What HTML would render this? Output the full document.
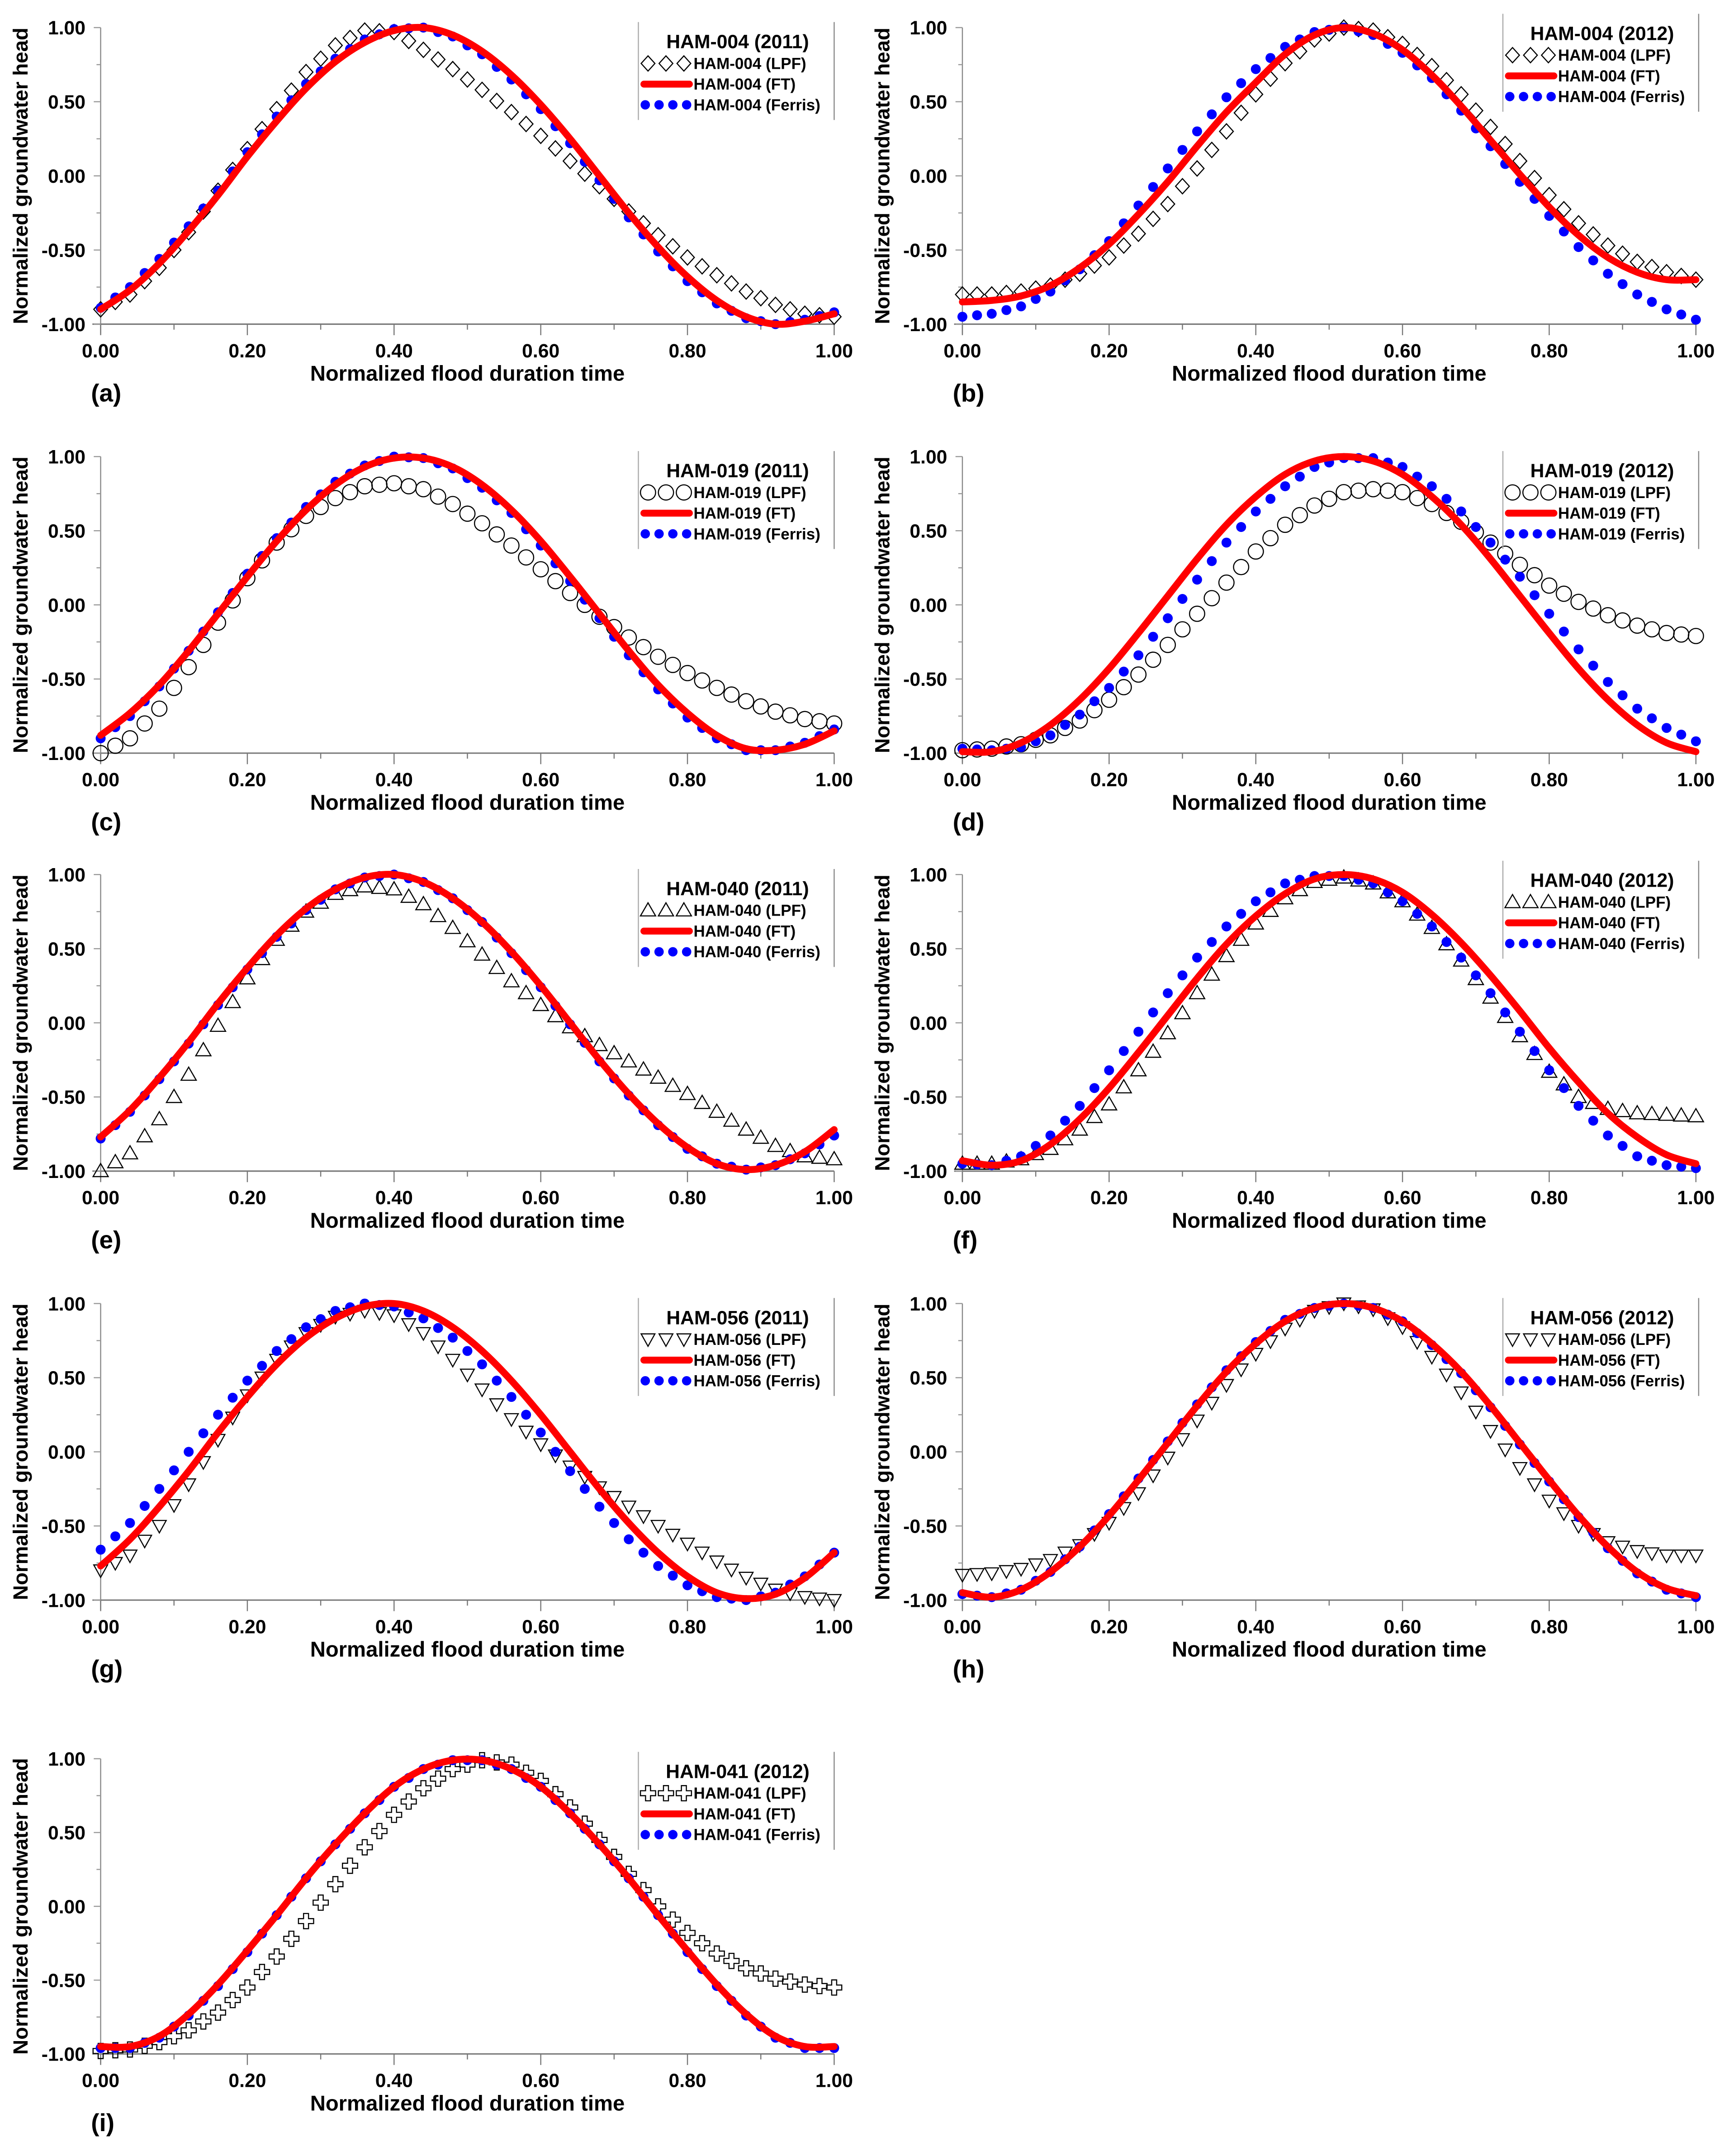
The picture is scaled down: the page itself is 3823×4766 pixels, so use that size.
<!DOCTYPE html>
<html><head><meta charset="utf-8"><style>
html,body{margin:0;padding:0;background:#fff;}
svg{display:block;}
text{font-family:"Liberation Sans Narrow","Liberation Sans",sans-serif;font-weight:bold;fill:#000;}
.yt{font-family:"Liberation Sans",sans-serif;}
</style></head><body>
<svg id="fig" xmlns="http://www.w3.org/2000/svg" width="3823" height="4766" viewBox="0 0 1254 1563" preserveAspectRatio="none"></svg>
<script>
const xs = [0,0.04,0.08,0.12,0.16,0.20,0.24,0.28,0.32,0.36,0.40,0.44,0.48,0.52,0.56,0.60,0.64,0.68,0.72,0.76,0.80,0.84,0.88,0.92,0.96,1.00];
const yTicks = [1,0.5,0,-0.5,-1];
const yTickLabels = ["1.00","0.50","0.00","-0.50","-1.00"];
const xTicks = [0,0.2,0.4,0.6,0.8,1];
const xTickLabels = ["0.00","0.20","0.40","0.60","0.80","1.00"];

const aFT = [-0.90,-0.77,-0.59,-0.37,-0.13,0.13,0.37,0.59,0.77,0.90,0.98,1.00,0.95,0.84,0.68,0.48,0.25,0.00,-0.25,-0.48,-0.68,-0.84,-0.95,-1.00,-0.98,-0.93];
const aFerris = [-0.89,-0.75,-0.56,-0.34,-0.10,0.16,0.40,0.62,0.79,0.92,0.99,1.00,0.94,0.82,0.65,0.45,0.22,-0.03,-0.28,-0.51,-0.71,-0.86,-0.96,-1.00,-0.97,-0.92];
const aLPF = [-0.90,-0.80,-0.62,-0.38,-0.10,0.18,0.45,0.70,0.88,0.98,0.97,0.85,0.72,0.58,0.43,0.27,0.10,-0.07,-0.24,-0.40,-0.55,-0.67,-0.78,-0.87,-0.93,-0.95];

const bFT = [-0.85,-0.84,-0.81,-0.74,-0.62,-0.46,-0.26,-0.04,0.20,0.43,0.63,0.82,0.95,1.00,0.96,0.85,0.68,0.47,0.24,0.01,-0.21,-0.40,-0.55,-0.65,-0.70,-0.70];
const bFerris = [-0.95,-0.93,-0.88,-0.78,-0.63,-0.44,-0.20,0.05,0.30,0.53,0.72,0.87,0.97,1.00,0.95,0.83,0.66,0.44,0.20,-0.04,-0.27,-0.48,-0.66,-0.80,-0.90,-0.97];
const bLPF = [-0.80,-0.80,-0.78,-0.74,-0.66,-0.55,-0.39,-0.19,0.05,0.30,0.55,0.76,0.92,1.00,0.98,0.89,0.74,0.55,0.33,0.10,-0.13,-0.32,-0.47,-0.58,-0.65,-0.70];

const cFT = [-0.88,-0.73,-0.54,-0.31,-0.06,0.19,0.43,0.64,0.81,0.93,0.99,0.99,0.93,0.81,0.64,0.43,0.19,-0.06,-0.31,-0.54,-0.73,-0.88,-0.97,-0.98,-0.94,-0.85];
const cFerris = [-0.90,-0.75,-0.55,-0.31,-0.05,0.21,0.45,0.66,0.83,0.94,1.00,0.99,0.92,0.79,0.62,0.40,0.16,-0.09,-0.34,-0.57,-0.76,-0.90,-0.98,-0.98,-0.93,-0.84];
const cLPF = [-1.00,-0.90,-0.70,-0.42,-0.12,0.18,0.42,0.60,0.72,0.80,0.82,0.78,0.68,0.55,0.40,0.24,0.08,-0.08,-0.22,-0.35,-0.46,-0.56,-0.65,-0.72,-0.77,-0.80];

const dFT = [-0.99,-0.99,-0.93,-0.81,-0.64,-0.43,-0.19,0.06,0.31,0.54,0.73,0.88,0.97,1.00,0.97,0.88,0.73,0.54,0.31,0.06,-0.19,-0.43,-0.64,-0.81,-0.93,-0.99];
const dFerris = [-0.97,-0.98,-0.96,-0.88,-0.74,-0.56,-0.34,-0.09,0.17,0.42,0.63,0.80,0.93,0.99,0.99,0.93,0.80,0.63,0.42,0.19,-0.06,-0.30,-0.52,-0.70,-0.83,-0.92];
const dLPF = [-0.98,-0.97,-0.94,-0.88,-0.78,-0.64,-0.47,-0.27,-0.06,0.15,0.36,0.54,0.67,0.76,0.78,0.76,0.68,0.56,0.42,0.27,0.13,0.02,-0.07,-0.14,-0.19,-0.21];

const eFT = [-0.77,-0.59,-0.37,-0.13,0.13,0.37,0.59,0.77,0.90,0.98,1.00,0.95,0.84,0.68,0.48,0.25,0.00,-0.25,-0.48,-0.68,-0.84,-0.95,-0.99,-0.96,-0.87,-0.72];
const eFerris = [-0.78,-0.60,-0.38,-0.14,0.12,0.36,0.58,0.76,0.90,0.98,1.00,0.95,0.84,0.68,0.47,0.24,-0.01,-0.26,-0.49,-0.69,-0.85,-0.95,-0.99,-0.96,-0.88,-0.76];
const eLPF = [-1.00,-0.88,-0.65,-0.35,-0.02,0.30,0.56,0.75,0.87,0.92,0.90,0.80,0.64,0.46,0.28,0.12,-0.03,-0.15,-0.26,-0.37,-0.48,-0.60,-0.72,-0.83,-0.90,-0.92];

const fFT = [-0.93,-0.96,-0.93,-0.82,-0.65,-0.44,-0.20,0.05,0.30,0.53,0.72,0.87,0.97,1.00,0.97,0.88,0.73,0.54,0.32,0.08,-0.17,-0.40,-0.61,-0.77,-0.89,-0.95];
const fFerris = [-0.95,-0.96,-0.90,-0.76,-0.56,-0.32,-0.06,0.20,0.44,0.65,0.82,0.94,0.99,0.99,0.94,0.82,0.65,0.44,0.20,-0.06,-0.32,-0.56,-0.76,-0.90,-0.96,-0.98];
const fLPF = [-0.95,-0.95,-0.92,-0.85,-0.72,-0.55,-0.32,-0.07,0.20,0.45,0.67,0.84,0.95,0.98,0.94,0.82,0.64,0.42,0.17,-0.09,-0.33,-0.50,-0.58,-0.61,-0.62,-0.63];

const gFT = [-0.77,-0.59,-0.37,-0.13,0.13,0.37,0.59,0.77,0.90,0.98,1.00,0.95,0.84,0.68,0.48,0.25,0.00,-0.25,-0.48,-0.68,-0.84,-0.95,-0.99,-0.96,-0.85,-0.68];
const gFerris = [-0.66,-0.48,-0.25,0.00,0.25,0.48,0.68,0.84,0.95,1.00,0.98,0.90,0.77,0.59,0.37,0.13,-0.13,-0.37,-0.59,-0.77,-0.90,-0.98,-1.00,-0.95,-0.84,-0.68];
const gLPF = [-0.80,-0.70,-0.50,-0.22,0.08,0.38,0.62,0.80,0.91,0.95,0.92,0.80,0.62,0.42,0.22,0.05,-0.10,-0.24,-0.37,-0.50,-0.62,-0.74,-0.85,-0.93,-0.98,-1.00];

const hFT = [-0.95,-0.98,-0.93,-0.81,-0.64,-0.43,-0.19,0.06,0.31,0.54,0.73,0.88,0.97,1.00,0.97,0.88,0.73,0.54,0.31,0.06,-0.19,-0.43,-0.64,-0.81,-0.92,-0.97];
const hFerris = [-0.96,-0.98,-0.93,-0.81,-0.64,-0.42,-0.18,0.07,0.32,0.55,0.74,0.89,0.97,1.00,0.97,0.88,0.72,0.53,0.30,0.05,-0.20,-0.44,-0.65,-0.82,-0.93,-0.98];
const hLPF = [-0.83,-0.82,-0.79,-0.73,-0.63,-0.48,-0.28,-0.04,0.21,0.45,0.66,0.83,0.95,1.00,0.96,0.84,0.64,0.40,0.14,-0.11,-0.33,-0.50,-0.61,-0.67,-0.70,-0.70];

const iFT = [-0.95,-0.95,-0.88,-0.73,-0.53,-0.30,-0.06,0.19,0.42,0.63,0.81,0.93,0.99,0.99,0.93,0.81,0.63,0.42,0.19,-0.06,-0.30,-0.53,-0.73,-0.88,-0.95,-0.95];
const iFerris = [-0.96,-0.96,-0.89,-0.74,-0.54,-0.31,-0.06,0.19,0.42,0.63,0.81,0.93,0.99,0.99,0.93,0.81,0.63,0.42,0.19,-0.06,-0.31,-0.54,-0.74,-0.89,-0.96,-0.96];
const iLPF = [-0.98,-0.97,-0.92,-0.84,-0.72,-0.55,-0.34,-0.10,0.15,0.40,0.62,0.80,0.93,0.99,0.96,0.85,0.67,0.45,0.22,0.00,-0.18,-0.32,-0.42,-0.49,-0.53,-0.55];

const panels = [
 {id:'a',well:'HAM-004',year:'2011',marker:'diamond',ft:aFT,fe:aFerris,lpf:aLPF,x0:73,x1:605,yt:20,yb:235,lx:463,ly:30},
 {id:'b',well:'HAM-004',year:'2012',marker:'diamond',ft:bFT,fe:bFerris,lpf:bLPF,x0:698,x1:1230,yt:20,yb:235,lx:1090,ly:24},
 {id:'c',well:'HAM-019',year:'2011',marker:'circle',ft:cFT,fe:cFerris,lpf:cLPF,x0:73,x1:605,yt:331,yb:546,lx:463,ly:341},
 {id:'d',well:'HAM-019',year:'2012',marker:'circle',ft:dFT,fe:dFerris,lpf:dLPF,x0:698,x1:1230,yt:331,yb:546,lx:1090,ly:341},
 {id:'e',well:'HAM-040',year:'2011',marker:'tri',ft:eFT,fe:eFerris,lpf:eLPF,x0:73,x1:605,yt:634,yb:849,lx:463,ly:644},
 {id:'f',well:'HAM-040',year:'2012',marker:'tri',ft:fFT,fe:fFerris,lpf:fLPF,x0:698,x1:1230,yt:634,yb:849,lx:1090,ly:638},
 {id:'g',well:'HAM-056',year:'2011',marker:'trid',ft:gFT,fe:gFerris,lpf:gLPF,x0:73,x1:605,yt:945,yb:1160,lx:463,ly:955},
 {id:'h',well:'HAM-056',year:'2012',marker:'trid',ft:hFT,fe:hFerris,lpf:hLPF,x0:698,x1:1230,yt:945,yb:1160,lx:1090,ly:955},
 {id:'i',well:'HAM-041',year:'2012',marker:'plus',ft:iFT,fe:iFerris,lpf:iLPF,x0:73,x1:605,yt:1275,yb:1489,lx:463,ly:1284}
];

const NS='http://www.w3.org/2000/svg';
const svg=document.getElementById('fig');
function mk(tag,attrs,parent){const e=document.createElementNS(NS,tag);for(const k in attrs)e.setAttribute(k,attrs[k]);(parent||svg).appendChild(e);return e;}
function markerEl(type,cx,cy,g){
  let e;
  if(type==='diamond') e=mk('polygon',{points:`${cx},${cy-5.5} ${cx+5},${cy} ${cx},${cy+5.5} ${cx-5},${cy}`,fill:'none',stroke:'#000','stroke-width':0.8},g);
  else if(type==='circle') e=mk('circle',{cx:cx,cy:cy,r:5.5,fill:'none',stroke:'#000','stroke-width':0.8},g);
  else if(type==='tri') e=mk('polygon',{points:`${cx},${cy-5.5} ${cx+5.5},${cy+4} ${cx-5.5},${cy+4}`,fill:'none',stroke:'#000','stroke-width':0.8},g);
  else if(type==='trid') e=mk('polygon',{points:`${cx},${cy+5} ${cx+5},${cy-4} ${cx-5},${cy-4}`,fill:'none',stroke:'#000','stroke-width':0.8},g);
  else e=mk('path',{d:`M${cx-1.8},${cy-5.5}h3.6v3.7h3.7v3.6h-3.7v3.7h-3.6v-3.7h-3.7v-3.6h3.7z`,fill:'none',stroke:'#000','stroke-width':0.8},g);
  return e;
}

panels.forEach(p=>{
  const g=mk('g',{});
  
  
  const X=v=>p.x0+(p.x1-p.x0)*v;
  const Y=v=>p.yb-(p.yb-p.yt)*(v+1)/2;
  const ya=mk('line',{x1:p.x0,y1:p.yt,x2:p.x0,y2:p.yb+7,stroke:'#888','stroke-width':0.8},g);
  
  
  const xa=mk('line',{x1:p.x0-6,y1:p.yb,x2:p.x1,y2:p.yb,stroke:'#777','stroke-width':1},g);
  
  
  for(let k=0;k<=10;k++){const v=k/10;mk('line',{x1:X(v),y1:p.yb,x2:X(v),y2:p.yb+(k%2?4:8),stroke:'#777','stroke-width':0.8},g);}
  for(let k=0;k<=8;k++){const v=-1+k*0.25;mk('line',{x1:p.x0-(k%2?3:5),y1:Y(v),x2:p.x0,y2:Y(v),stroke:'#999','stroke-width':0.8},g);}
  yTicks.forEach((v,i)=>{const t=mk('text',{x:p.x0-11,y:Y(v)+5,'text-anchor':'end','font-size':14},g);t.textContent=yTickLabels[i];
    
    });
  xTicks.forEach((v,i)=>{const t=mk('text',{x:X(v),y:p.yb+24,'text-anchor':'middle','font-size':14},g);t.textContent=xTickLabels[i];
    
    });
  const xt=mk('text',{x:(p.x0+p.x1)/2,y:p.yb+41,'text-anchor':'middle','font-size':15.5},g);xt.textContent='Normalized flood duration time';
  
  
  const ytc=p.x0-53, ymid=(p.yt+p.yb)/2;
  const yt=mk('text',{x:ytc,y:ymid,'text-anchor':'middle','font-size':15,class:'yt',transform:`rotate(-90 ${ytc} ${ymid})`},g);yt.textContent='Normalized groundwater head';
  
  
  const pl=mk('text',{x:p.x0-7,y:p.yb+56,'font-size':18,'text-anchor':'start'},g);pl.textContent='('+p.id+')';
  
  
  const gl=mk('g',{},g);
  
  
  xs.forEach((x,i)=>{const m=markerEl(p.marker,X(x),Y(p.lpf[i]),gl);
    
    
    if(i<xs.length-1){const m2=markerEl(p.marker,X((x+xs[i+1])/2),Y((p.lpf[i]+p.lpf[i+1])/2),gl);
      
      }});
  const gf=mk('g',{},g);
  
  
  xs.forEach((x,i)=>{const c=mk('circle',{cx:X(x),cy:Y(p.fe[i]),r:3.6,fill:'#0000ff'},gf);
    
    
    if(i<xs.length-1){const c2=mk('circle',{cx:X((x+xs[i+1])/2),cy:Y((p.fe[i]+p.fe[i+1])/2),r:3.6,fill:'#0000ff'},gf);
      
      }});
  const pts=xs.map((x,i)=>[X(x),Y(p.ft[i])]);
  let d=`M${pts[0][0]},${pts[0][1]}`;
  for(let i=0;i<pts.length-1;i++){const p0=pts[Math.max(0,i-1)],p1=pts[i],p2=pts[i+1],p3=pts[Math.min(pts.length-1,i+2)];
    d+=` C${p1[0]+(p2[0]-p0[0])/6},${p1[1]+(p2[1]-p0[1])/6} ${p2[0]-(p3[0]-p1[0])/6},${p2[1]-(p3[1]-p1[1])/6} ${p2[0]},${p2[1]}`;}
  const ftl=mk('path',{d:d,fill:'none',stroke:'#ff0000','stroke-width':5,'stroke-linecap':'round'},g);
  
  
  const lg=mk('g',{},g);
  
  
  const lx=p.lx, ly=p.ly;
  mk('line',{x1:lx,y1:ly-14,x2:lx,y2:ly+57,stroke:'#aaa','stroke-width':0.8},lg);
  mk('line',{x1:lx+142,y1:ly-14,x2:lx+142,y2:ly+57,stroke:'#888','stroke-width':0.8},lg);
  const lt=mk('text',{x:lx+72,y:ly+5,'text-anchor':'middle','font-size':14,class:'yt'},lg);lt.textContent=p.well+' ('+p.year+')';
  
  
  [lx+7,lx+20,lx+33].forEach(cx=>markerEl(p.marker,cx,ly+16,lg));
  const t1=mk('text',{x:lx+40,y:ly+20,'font-size':11.5,class:'yt'},lg);t1.textContent=p.well+' (LPF)';
  
  
  mk('line',{x1:lx+4,y1:ly+31,x2:lx+37,y2:ly+31,stroke:'#ff0000','stroke-width':5,'stroke-linecap':'round'},lg);
  const t2=mk('text',{x:lx+40,y:ly+35,'font-size':11.5,class:'yt'},lg);t2.textContent=p.well+' (FT)';
  
  
  [lx+5,lx+15,lx+25,lx+35].forEach(cx=>mk('circle',{cx:cx,cy:ly+46,r:3.4,fill:'#0000ff'},lg));
  const t3=mk('text',{x:lx+40,y:ly+50,'font-size':11.5,class:'yt'},lg);t3.textContent=p.well+' (Ferris)';
  
  
});
</script>
</body></html>
